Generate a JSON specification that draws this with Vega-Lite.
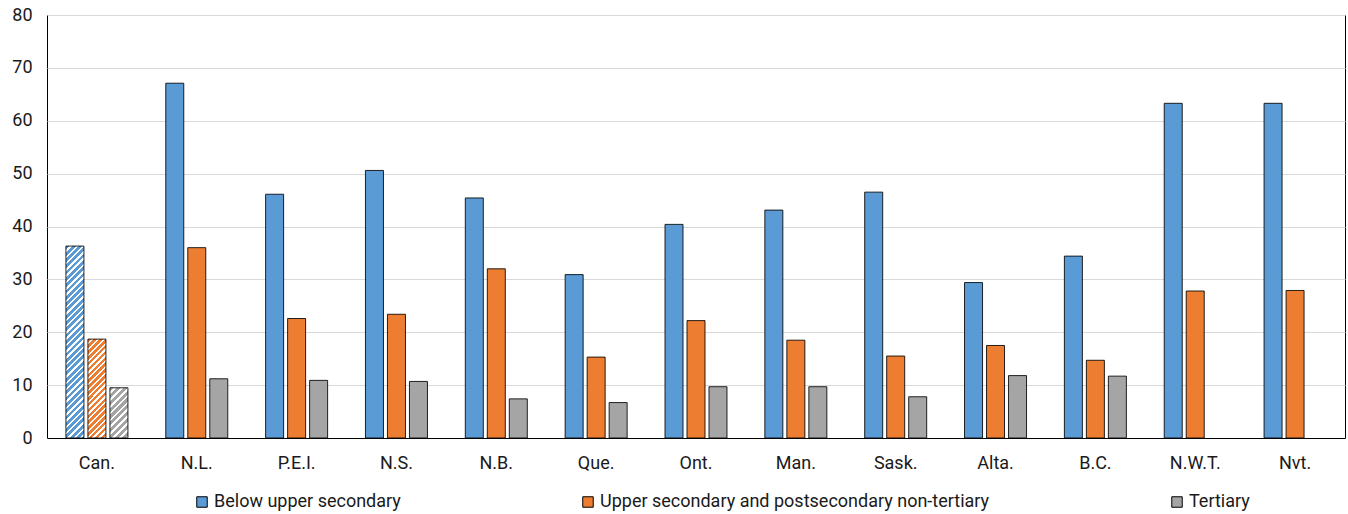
{
  "$schema": "https://vega.github.io/schema/vega-lite/v6.json",
  "width": 1298,
  "height": 423,
  "autosize": {"type": "none"},
  "padding": {"left": 47, "top": 15, "right": 3, "bottom": 76},
  "background": "white",
  "config": {
    "font": "Roboto, Liberation Sans, sans-serif",
    "view": {"stroke": "black", "strokeWidth": 1},
    "axis": {"labelFont": "Roboto, Liberation Sans, sans-serif", "labelColor": "#1a1a1a", "labelFontSize": 18},
    "legend": {"labelFont": "Roboto, Liberation Sans, sans-serif", "labelColor": "#1a1a1a", "labelFontSize": 18}
  },
  "data": {
    "values": [
      {"region": "Can.", "level": "Below upper secondary", "value": 36.3},
      {"region": "Can.", "level": "Upper secondary and postsecondary non-tertiary", "value": 18.7},
      {"region": "Can.", "level": "Tertiary", "value": 9.5},
      {"region": "N.L.", "level": "Below upper secondary", "value": 67.1},
      {"region": "N.L.", "level": "Upper secondary and postsecondary non-tertiary", "value": 36.0},
      {"region": "N.L.", "level": "Tertiary", "value": 11.2},
      {"region": "P.E.I.", "level": "Below upper secondary", "value": 46.1},
      {"region": "P.E.I.", "level": "Upper secondary and postsecondary non-tertiary", "value": 22.6},
      {"region": "P.E.I.", "level": "Tertiary", "value": 10.9},
      {"region": "N.S.", "level": "Below upper secondary", "value": 50.6},
      {"region": "N.S.", "level": "Upper secondary and postsecondary non-tertiary", "value": 23.4},
      {"region": "N.S.", "level": "Tertiary", "value": 10.7},
      {"region": "N.B.", "level": "Below upper secondary", "value": 45.4},
      {"region": "N.B.", "level": "Upper secondary and postsecondary non-tertiary", "value": 32.0},
      {"region": "N.B.", "level": "Tertiary", "value": 7.4},
      {"region": "Que.", "level": "Below upper secondary", "value": 30.9},
      {"region": "Que.", "level": "Upper secondary and postsecondary non-tertiary", "value": 15.3},
      {"region": "Que.", "level": "Tertiary", "value": 6.7},
      {"region": "Ont.", "level": "Below upper secondary", "value": 40.4},
      {"region": "Ont.", "level": "Upper secondary and postsecondary non-tertiary", "value": 22.2},
      {"region": "Ont.", "level": "Tertiary", "value": 9.7},
      {"region": "Man.", "level": "Below upper secondary", "value": 43.1},
      {"region": "Man.", "level": "Upper secondary and postsecondary non-tertiary", "value": 18.5},
      {"region": "Man.", "level": "Tertiary", "value": 9.7},
      {"region": "Sask.", "level": "Below upper secondary", "value": 46.5},
      {"region": "Sask.", "level": "Upper secondary and postsecondary non-tertiary", "value": 15.5},
      {"region": "Sask.", "level": "Tertiary", "value": 7.8},
      {"region": "Alta.", "level": "Below upper secondary", "value": 29.4},
      {"region": "Alta.", "level": "Upper secondary and postsecondary non-tertiary", "value": 17.5},
      {"region": "Alta.", "level": "Tertiary", "value": 11.8},
      {"region": "B.C.", "level": "Below upper secondary", "value": 34.4},
      {"region": "B.C.", "level": "Upper secondary and postsecondary non-tertiary", "value": 14.7},
      {"region": "B.C.", "level": "Tertiary", "value": 11.7},
      {"region": "N.W.T.", "level": "Below upper secondary", "value": 63.3},
      {"region": "N.W.T.", "level": "Upper secondary and postsecondary non-tertiary", "value": 27.8},
      {"region": "Nvt.", "level": "Below upper secondary", "value": 63.3},
      {"region": "Nvt.", "level": "Upper secondary and postsecondary non-tertiary", "value": 27.9}
    ]
  },
  "mark": {"type": "bar", "stroke": "black", "strokeWidth": 1, "strokeOpacity": 0.85},
  "encoding": {
    "x": {
      "field": "region", "type": "nominal", "sort": null, "title": null,
      "scale": {"paddingInner": 0.339, "paddingOuter": 0.1695},
      "axis": {"labelAngle": 0, "ticks": false, "domainColor": "black", "domainWidth": 1, "labelPadding": 16, "grid": false}
    },
    "xOffset": {
      "field": "level", "type": "nominal", "sort": null,
      "scale": {"domain": ["Below upper secondary", "Upper secondary and postsecondary non-tertiary", "Tertiary"], "paddingInner": 0.1818, "paddingOuter": 0.0909}
    },
    "y": {
      "field": "value", "type": "quantitative", "title": null,
      "scale": {"domain": [0, 80], "nice": false},
      "axis": {"values": [0, 10, 20, 30, 40, 50, 60, 70, 80], "domain": false, "ticks": false, "labelPadding": 15, "gridColor": "#D9D9D9", "gridWidth": 1}
    },
    "fill": {
      "condition": [
        {"test": "datum.region === 'Can.' && datum.level === 'Below upper secondary'",
         "value": {"gradient": "linear", "x1": 0, "y1": 0, "x2": 0.1018, "y2": 1.0843, "stops": [
          {"offset": 0, "color": "#5B9BD5"}, {"offset": 0.018, "color": "#5B9BD5"}, {"offset": 0.018, "color": "#FFFFFF"}, {"offset": 0.03, "color": "#FFFFFF"},
          {"offset": 0.03, "color": "#5B9BD5"}, {"offset": 0.048, "color": "#5B9BD5"}, {"offset": 0.048, "color": "#FFFFFF"}, {"offset": 0.06, "color": "#FFFFFF"},
          {"offset": 0.06, "color": "#5B9BD5"}, {"offset": 0.078, "color": "#5B9BD5"}, {"offset": 0.078, "color": "#FFFFFF"}, {"offset": 0.09, "color": "#FFFFFF"},
          {"offset": 0.09, "color": "#5B9BD5"}, {"offset": 0.108, "color": "#5B9BD5"}, {"offset": 0.108, "color": "#FFFFFF"}, {"offset": 0.12, "color": "#FFFFFF"},
          {"offset": 0.12, "color": "#5B9BD5"}, {"offset": 0.138, "color": "#5B9BD5"}, {"offset": 0.138, "color": "#FFFFFF"}, {"offset": 0.15, "color": "#FFFFFF"},
          {"offset": 0.15, "color": "#5B9BD5"}, {"offset": 0.168, "color": "#5B9BD5"}, {"offset": 0.168, "color": "#FFFFFF"}, {"offset": 0.18, "color": "#FFFFFF"},
          {"offset": 0.18, "color": "#5B9BD5"}, {"offset": 0.198, "color": "#5B9BD5"}, {"offset": 0.198, "color": "#FFFFFF"}, {"offset": 0.21, "color": "#FFFFFF"},
          {"offset": 0.21, "color": "#5B9BD5"}, {"offset": 0.228, "color": "#5B9BD5"}, {"offset": 0.228, "color": "#FFFFFF"}, {"offset": 0.24, "color": "#FFFFFF"},
          {"offset": 0.24, "color": "#5B9BD5"}, {"offset": 0.258, "color": "#5B9BD5"}, {"offset": 0.258, "color": "#FFFFFF"}, {"offset": 0.27, "color": "#FFFFFF"},
          {"offset": 0.27, "color": "#5B9BD5"}, {"offset": 0.288, "color": "#5B9BD5"}, {"offset": 0.288, "color": "#FFFFFF"}, {"offset": 0.30, "color": "#FFFFFF"},
          {"offset": 0.30, "color": "#5B9BD5"}, {"offset": 0.318, "color": "#5B9BD5"}, {"offset": 0.318, "color": "#FFFFFF"}, {"offset": 0.33, "color": "#FFFFFF"},
          {"offset": 0.33, "color": "#5B9BD5"}, {"offset": 0.348, "color": "#5B9BD5"}, {"offset": 0.348, "color": "#FFFFFF"}, {"offset": 0.36, "color": "#FFFFFF"},
          {"offset": 0.36, "color": "#5B9BD5"}, {"offset": 0.378, "color": "#5B9BD5"}, {"offset": 0.378, "color": "#FFFFFF"}, {"offset": 0.39, "color": "#FFFFFF"},
          {"offset": 0.39, "color": "#5B9BD5"}, {"offset": 0.408, "color": "#5B9BD5"}, {"offset": 0.408, "color": "#FFFFFF"}, {"offset": 0.42, "color": "#FFFFFF"},
          {"offset": 0.42, "color": "#5B9BD5"}, {"offset": 0.438, "color": "#5B9BD5"}, {"offset": 0.438, "color": "#FFFFFF"}, {"offset": 0.45, "color": "#FFFFFF"},
          {"offset": 0.45, "color": "#5B9BD5"}, {"offset": 0.468, "color": "#5B9BD5"}, {"offset": 0.468, "color": "#FFFFFF"}, {"offset": 0.48, "color": "#FFFFFF"},
          {"offset": 0.48, "color": "#5B9BD5"}, {"offset": 0.498, "color": "#5B9BD5"}, {"offset": 0.498, "color": "#FFFFFF"}, {"offset": 0.51, "color": "#FFFFFF"},
          {"offset": 0.51, "color": "#5B9BD5"}, {"offset": 0.528, "color": "#5B9BD5"}, {"offset": 0.528, "color": "#FFFFFF"}, {"offset": 0.54, "color": "#FFFFFF"},
          {"offset": 0.54, "color": "#5B9BD5"}, {"offset": 0.558, "color": "#5B9BD5"}, {"offset": 0.558, "color": "#FFFFFF"}, {"offset": 0.57, "color": "#FFFFFF"},
          {"offset": 0.57, "color": "#5B9BD5"}, {"offset": 0.588, "color": "#5B9BD5"}, {"offset": 0.588, "color": "#FFFFFF"}, {"offset": 0.60, "color": "#FFFFFF"},
          {"offset": 0.60, "color": "#5B9BD5"}, {"offset": 0.618, "color": "#5B9BD5"}, {"offset": 0.618, "color": "#FFFFFF"}, {"offset": 0.63, "color": "#FFFFFF"},
          {"offset": 0.63, "color": "#5B9BD5"}, {"offset": 0.648, "color": "#5B9BD5"}, {"offset": 0.648, "color": "#FFFFFF"}, {"offset": 0.66, "color": "#FFFFFF"},
          {"offset": 0.66, "color": "#5B9BD5"}, {"offset": 0.678, "color": "#5B9BD5"}, {"offset": 0.678, "color": "#FFFFFF"}, {"offset": 0.69, "color": "#FFFFFF"},
          {"offset": 0.69, "color": "#5B9BD5"}, {"offset": 0.708, "color": "#5B9BD5"}, {"offset": 0.708, "color": "#FFFFFF"}, {"offset": 0.72, "color": "#FFFFFF"},
          {"offset": 0.72, "color": "#5B9BD5"}, {"offset": 0.738, "color": "#5B9BD5"}, {"offset": 0.738, "color": "#FFFFFF"}, {"offset": 0.75, "color": "#FFFFFF"},
          {"offset": 0.75, "color": "#5B9BD5"}, {"offset": 0.768, "color": "#5B9BD5"}, {"offset": 0.768, "color": "#FFFFFF"}, {"offset": 0.78, "color": "#FFFFFF"},
          {"offset": 0.78, "color": "#5B9BD5"}, {"offset": 0.798, "color": "#5B9BD5"}, {"offset": 0.798, "color": "#FFFFFF"}, {"offset": 0.81, "color": "#FFFFFF"},
          {"offset": 0.81, "color": "#5B9BD5"}, {"offset": 0.828, "color": "#5B9BD5"}, {"offset": 0.828, "color": "#FFFFFF"}, {"offset": 0.84, "color": "#FFFFFF"},
          {"offset": 0.84, "color": "#5B9BD5"}, {"offset": 0.858, "color": "#5B9BD5"}, {"offset": 0.858, "color": "#FFFFFF"}, {"offset": 0.87, "color": "#FFFFFF"},
          {"offset": 0.87, "color": "#5B9BD5"}, {"offset": 0.888, "color": "#5B9BD5"}, {"offset": 0.888, "color": "#FFFFFF"}, {"offset": 0.90, "color": "#FFFFFF"},
          {"offset": 0.90, "color": "#5B9BD5"}, {"offset": 0.918, "color": "#5B9BD5"}, {"offset": 0.918, "color": "#FFFFFF"}, {"offset": 0.93, "color": "#FFFFFF"},
          {"offset": 0.93, "color": "#5B9BD5"}, {"offset": 0.948, "color": "#5B9BD5"}, {"offset": 0.948, "color": "#FFFFFF"}, {"offset": 0.96, "color": "#FFFFFF"},
          {"offset": 0.96, "color": "#5B9BD5"}, {"offset": 0.978, "color": "#5B9BD5"}, {"offset": 0.978, "color": "#FFFFFF"}, {"offset": 0.99, "color": "#FFFFFF"},
          {"offset": 0.99, "color": "#5B9BD5"}, {"offset": 1, "color": "#5B9BD5"}
         ]}},
        {"test": "datum.region === 'Can.' && datum.level === 'Upper secondary and postsecondary non-tertiary'",
         "value": {"gradient": "linear", "x1": 0, "y1": 0, "x2": 0.2085, "y2": 1.1443, "stops": [
          {"offset": 0, "color": "#ED7D31"}, {"offset": 0.03, "color": "#ED7D31"}, {"offset": 0.03, "color": "#FFFFFF"}, {"offset": 0.05, "color": "#FFFFFF"},
          {"offset": 0.05, "color": "#ED7D31"}, {"offset": 0.08, "color": "#ED7D31"}, {"offset": 0.08, "color": "#FFFFFF"}, {"offset": 0.10, "color": "#FFFFFF"},
          {"offset": 0.10, "color": "#ED7D31"}, {"offset": 0.13, "color": "#ED7D31"}, {"offset": 0.13, "color": "#FFFFFF"}, {"offset": 0.15, "color": "#FFFFFF"},
          {"offset": 0.15, "color": "#ED7D31"}, {"offset": 0.18, "color": "#ED7D31"}, {"offset": 0.18, "color": "#FFFFFF"}, {"offset": 0.20, "color": "#FFFFFF"},
          {"offset": 0.20, "color": "#ED7D31"}, {"offset": 0.23, "color": "#ED7D31"}, {"offset": 0.23, "color": "#FFFFFF"}, {"offset": 0.25, "color": "#FFFFFF"},
          {"offset": 0.25, "color": "#ED7D31"}, {"offset": 0.28, "color": "#ED7D31"}, {"offset": 0.28, "color": "#FFFFFF"}, {"offset": 0.30, "color": "#FFFFFF"},
          {"offset": 0.30, "color": "#ED7D31"}, {"offset": 0.33, "color": "#ED7D31"}, {"offset": 0.33, "color": "#FFFFFF"}, {"offset": 0.35, "color": "#FFFFFF"},
          {"offset": 0.35, "color": "#ED7D31"}, {"offset": 0.38, "color": "#ED7D31"}, {"offset": 0.38, "color": "#FFFFFF"}, {"offset": 0.40, "color": "#FFFFFF"},
          {"offset": 0.40, "color": "#ED7D31"}, {"offset": 0.43, "color": "#ED7D31"}, {"offset": 0.43, "color": "#FFFFFF"}, {"offset": 0.45, "color": "#FFFFFF"},
          {"offset": 0.45, "color": "#ED7D31"}, {"offset": 0.48, "color": "#ED7D31"}, {"offset": 0.48, "color": "#FFFFFF"}, {"offset": 0.50, "color": "#FFFFFF"},
          {"offset": 0.50, "color": "#ED7D31"}, {"offset": 0.53, "color": "#ED7D31"}, {"offset": 0.53, "color": "#FFFFFF"}, {"offset": 0.55, "color": "#FFFFFF"},
          {"offset": 0.55, "color": "#ED7D31"}, {"offset": 0.58, "color": "#ED7D31"}, {"offset": 0.58, "color": "#FFFFFF"}, {"offset": 0.60, "color": "#FFFFFF"},
          {"offset": 0.60, "color": "#ED7D31"}, {"offset": 0.63, "color": "#ED7D31"}, {"offset": 0.63, "color": "#FFFFFF"}, {"offset": 0.65, "color": "#FFFFFF"},
          {"offset": 0.65, "color": "#ED7D31"}, {"offset": 0.68, "color": "#ED7D31"}, {"offset": 0.68, "color": "#FFFFFF"}, {"offset": 0.70, "color": "#FFFFFF"},
          {"offset": 0.70, "color": "#ED7D31"}, {"offset": 0.73, "color": "#ED7D31"}, {"offset": 0.73, "color": "#FFFFFF"}, {"offset": 0.75, "color": "#FFFFFF"},
          {"offset": 0.75, "color": "#ED7D31"}, {"offset": 0.78, "color": "#ED7D31"}, {"offset": 0.78, "color": "#FFFFFF"}, {"offset": 0.80, "color": "#FFFFFF"},
          {"offset": 0.80, "color": "#ED7D31"}, {"offset": 0.83, "color": "#ED7D31"}, {"offset": 0.83, "color": "#FFFFFF"}, {"offset": 0.85, "color": "#FFFFFF"},
          {"offset": 0.85, "color": "#ED7D31"}, {"offset": 0.88, "color": "#ED7D31"}, {"offset": 0.88, "color": "#FFFFFF"}, {"offset": 0.90, "color": "#FFFFFF"},
          {"offset": 0.90, "color": "#ED7D31"}, {"offset": 0.93, "color": "#ED7D31"}, {"offset": 0.93, "color": "#FFFFFF"}, {"offset": 0.95, "color": "#FFFFFF"},
          {"offset": 0.95, "color": "#ED7D31"}, {"offset": 0.98, "color": "#ED7D31"}, {"offset": 0.98, "color": "#FFFFFF"}, {"offset": 1, "color": "#FFFFFF"}
         ]}},
        {"test": "datum.region === 'Can.' && datum.level === 'Tertiary'",
         "value": {"gradient": "linear", "x1": 0, "y1": 0, "x2": 0.4317, "y2": 1.2038, "stops": [
          {"offset": 0, "color": "#A5A5A5"}, {"offset": 0.06, "color": "#A5A5A5"}, {"offset": 0.06, "color": "#FFFFFF"}, {"offset": 0.10, "color": "#FFFFFF"},
          {"offset": 0.10, "color": "#A5A5A5"}, {"offset": 0.16, "color": "#A5A5A5"}, {"offset": 0.16, "color": "#FFFFFF"}, {"offset": 0.20, "color": "#FFFFFF"},
          {"offset": 0.20, "color": "#A5A5A5"}, {"offset": 0.26, "color": "#A5A5A5"}, {"offset": 0.26, "color": "#FFFFFF"}, {"offset": 0.30, "color": "#FFFFFF"},
          {"offset": 0.30, "color": "#A5A5A5"}, {"offset": 0.36, "color": "#A5A5A5"}, {"offset": 0.36, "color": "#FFFFFF"}, {"offset": 0.40, "color": "#FFFFFF"},
          {"offset": 0.40, "color": "#A5A5A5"}, {"offset": 0.46, "color": "#A5A5A5"}, {"offset": 0.46, "color": "#FFFFFF"}, {"offset": 0.50, "color": "#FFFFFF"},
          {"offset": 0.50, "color": "#A5A5A5"}, {"offset": 0.56, "color": "#A5A5A5"}, {"offset": 0.56, "color": "#FFFFFF"}, {"offset": 0.60, "color": "#FFFFFF"},
          {"offset": 0.60, "color": "#A5A5A5"}, {"offset": 0.66, "color": "#A5A5A5"}, {"offset": 0.66, "color": "#FFFFFF"}, {"offset": 0.70, "color": "#FFFFFF"},
          {"offset": 0.70, "color": "#A5A5A5"}, {"offset": 0.76, "color": "#A5A5A5"}, {"offset": 0.76, "color": "#FFFFFF"}, {"offset": 0.80, "color": "#FFFFFF"},
          {"offset": 0.80, "color": "#A5A5A5"}, {"offset": 0.86, "color": "#A5A5A5"}, {"offset": 0.86, "color": "#FFFFFF"}, {"offset": 0.90, "color": "#FFFFFF"},
          {"offset": 0.90, "color": "#A5A5A5"}, {"offset": 0.96, "color": "#A5A5A5"}, {"offset": 0.96, "color": "#FFFFFF"}, {"offset": 1, "color": "#FFFFFF"}
         ]}}
      ],
      "field": "level", "type": "nominal",
      "scale": {"domain": ["Below upper secondary", "Upper secondary and postsecondary non-tertiary", "Tertiary"], "range": ["#5B9BD5", "#ED7D31", "#A5A5A5"]},
      "legend": {"title": null, "orient": "none", "legendX": 146, "legendY": 478, "direction": "horizontal", "symbolType": "square", "symbolSize": 110, "symbolStrokeColor": "black", "symbolStrokeWidth": 1, "columnPadding": 178, "labelOffset": 3, "labelLimit": 0, "padding": 0}
    }
  }
}
